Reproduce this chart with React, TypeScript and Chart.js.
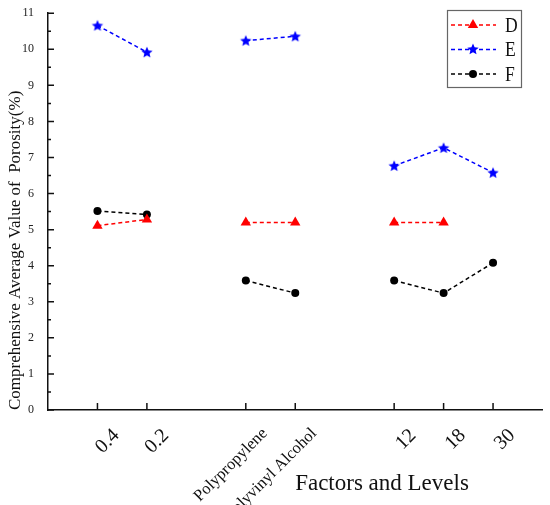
import React, { useEffect, useRef } from "react";
import Chart from "chart.js/auto";

// blank entries leave the gaps between the factor groups
const categories = ["", "0.4", "0.2", "", "Polypropylene", "Polyvinyl Alcohol", "", "12", "18", "30", ""];
const seriesD = [null, 5.11, 5.28, null, 5.2, 5.2, null, 5.2, 5.2, null, null];
const seriesE = [null, 10.66, 9.92, null, 10.24, 10.36, null, 6.77, 7.27, 6.58, null];
const seriesF = [null, 5.52, 5.42, null, 3.59, 3.24, null, 3.59, 3.24, 4.08, null];
const seriesNames = ["D", "E", "F"];

const SERIF = "'Liberation Serif', 'Times New Roman', serif";

function starPath(g: CanvasRenderingContext2D, cx: number, cy: number, r: number) {
    const inner = r * 0.45;
    g.beginPath();
    for (let i = 0; i < 10; i++) {
        const a = -Math.PI / 2 + (i * Math.PI) / 5;
        const rr = i % 2 === 0 ? r : inner;
        const px = cx + Math.cos(a) * rr;
        const py = cy + Math.sin(a) * rr;
        if (i === 0) g.moveTo(px, py);
        else g.lineTo(px, py);
    }
    g.closePath();
}

function makeStar(color: string, r: number) {
    const size = Math.ceil(r * 2 + 2);
    const c = document.createElement("canvas");
    c.width = size;
    c.height = size;
    const g = c.getContext("2d");
    if (g) {
        starPath(g, size / 2, size / 2 + 0.5, r);
        g.fillStyle = color;
        g.fill();
    }
    return c;
}

function drawMarker(g: CanvasRenderingContext2D, kind: string, x: number, y: number, color: string) {
    g.fillStyle = color;
    if (kind === "triangle") {
        const r = 6;
        g.beginPath();
        g.moveTo(x, y - r);
        g.lineTo(x + r * 0.866, y + r * 0.5);
        g.lineTo(x - r * 0.866, y + r * 0.5);
        g.closePath();
        g.fill();
    } else if (kind === "star") {
        starPath(g, x, y, 6);
        g.fill();
    } else {
        g.beginPath();
        g.arc(x, y, 4, 0, Math.PI * 2);
        g.fill();
    }
}

const Graph: React.FC = () => {
    const chartRef = useRef<HTMLCanvasElement | null>(null);
    const chartInstance = useRef<Chart<"line"> | null>(null);

    useEffect(() => {
        document.body.style.margin = "0";
        if (chartRef.current === null) return;
        const ctx = chartRef.current.getContext("2d");
        if (ctx === null) return;

        const colors = ["#ff0000", "#0000ff", "#000000"];
        const kinds = ["triangle", "star", "circle"];

        // inward tick marks, legend box, x title
        const decorations = {
            id: "decorations",
            afterDraw(chart: any) {
                const g: CanvasRenderingContext2D = chart.ctx;
                const xs = chart.scales.x;
                const ys = chart.scales.y;
                const area = chart.chartArea;
                g.save();
                g.strokeStyle = "#111";
                g.lineWidth = 1.5;
                g.beginPath();
                categories.forEach((c, i) => {
                    if (c === "") return;
                    const px = xs.getPixelForValue(i);
                    g.moveTo(px, area.bottom);
                    g.lineTo(px, area.bottom - 7);
                });
                for (let v = 0; v <= 11; v += 0.5) {
                    const py = ys.getPixelForValue(v);
                    const len = Number.isInteger(v) ? 6 : 3;
                    g.moveTo(area.left, py);
                    g.lineTo(area.left + len, py);
                }
                g.stroke();

                // legend
                g.strokeStyle = "#666";
                g.lineWidth = 1.2;
                g.strokeRect(447.5, 10.5, 74, 77);
                seriesNames.forEach((name, i) => {
                    const y = 25 + i * 24.5;
                    g.setLineDash([4, 3]);
                    g.strokeStyle = colors[i];
                    g.lineWidth = 1.5;
                    g.beginPath();
                    g.moveTo(451, y);
                    g.lineTo(496, y);
                    g.stroke();
                    g.setLineDash([]);
                    drawMarker(g, kinds[i], 473, y, colors[i]);
                    g.save();
                    g.fillStyle = "#111";
                    g.font = "22px " + SERIF;
                    g.textBaseline = "middle";
                    g.translate(505, y + 1);
                    g.scale(0.8, 1);
                    g.fillText(name, 0, 0);
                    g.restore();
                });

                g.fillStyle = "#111";
                g.font = "23px " + SERIF;
                g.textAlign = "center";
                g.textBaseline = "alphabetic";
                g.fillText("Factors and Levels", 382, 490);
                g.restore();
            },
        };

        chartInstance.current = new Chart(ctx, {
            type: "line",
            data: {
                labels: categories,
                datasets: [
                    {
                        label: seriesNames[0],
                        data: seriesD,
                        borderColor: colors[0],
                        backgroundColor: colors[0],
                        borderWidth: 1.5,
                        borderDash: [4, 3],
                        pointStyle: "triangle",
                        pointRadius: 6,
                        pointBorderWidth: 0,
                    },
                    {
                        label: seriesNames[1],
                        data: seriesE,
                        borderColor: colors[1],
                        backgroundColor: colors[1],
                        borderWidth: 1.5,
                        borderDash: [4, 3],
                        pointStyle: makeStar(colors[1], 6),
                        pointRadius: 6,
                    },
                    {
                        label: seriesNames[2],
                        data: seriesF,
                        borderColor: colors[2],
                        backgroundColor: colors[2],
                        borderWidth: 1.5,
                        borderDash: [4, 3],
                        pointStyle: "circle",
                        pointRadius: 4,
                        pointBorderWidth: 0,
                    },
                ],
            },
            options: {
                responsive: false,
                animation: false,
                layout: { padding: { top: 12, right: 7, left: 0, bottom: 0 } },
                plugins: {
                    legend: { display: false },
                    tooltip: { enabled: false },
                },
                scales: {
                    x: {
                        grid: { display: false },
                        border: { display: true, color: "#111", width: 1.5 },
                        ticks: {
                            autoSkip: false,
                            minRotation: 45,
                            maxRotation: 45,
                            padding: 6,
                            labelOffset: 19,
                            color: "#111",
                            font: (c: any) => ({
                                family: SERIF,
                                size: c.tick && c.tick.label && String(c.tick.label).length > 4 ? 16.5 : 20,
                            }),
                        },
                        afterFit: (scale: any) => {
                            scale.height = 95;
                            scale.paddingLeft = 0;
                            scale.paddingRight = 0;
                        },
                    },
                    y: {
                        min: 0,
                        max: 11,
                        grid: { display: false },
                        border: { display: true, color: "#111", width: 1.5 },
                        ticks: {
                            stepSize: 1,
                            padding: 6,
                            color: "#222",
                            font: { family: SERIF, size: 12 },
                        },
                        title: {
                            display: true,
                            text: "Comprehensive Average Value of  Porosity(%)",
                            align: "start",
                            color: "#111",
                            font: { family: SERIF, size: 17 },
                            padding: { top: 5, bottom: 0 },
                        },
                        afterFit: (scale: any) => {
                            scale.width = 48;
                        },
                    },
                },
            },
            plugins: [decorations],
        });

        return () => {
            if (chartInstance.current !== null) {
                chartInstance.current.destroy();
                chartInstance.current = null;
            }
        };
    }, []);

    return (
        <div style={{ width: 550, height: 505 }}>
            <canvas ref={chartRef} width={550} height={505} style={{ display: "block" }}></canvas>
        </div>
    );
};

export default function App() {
    return <Graph />;
}
